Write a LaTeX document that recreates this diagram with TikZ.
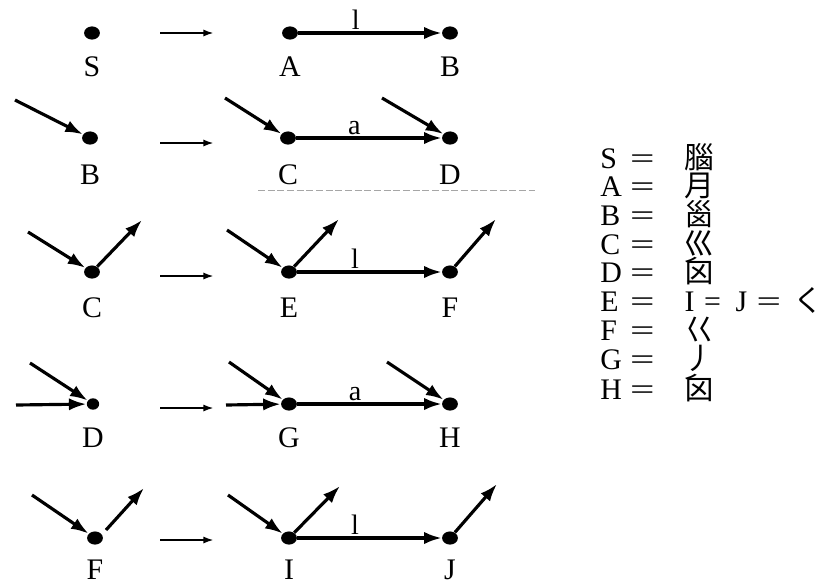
\documentclass[tikz,border=0pt]{standalone}
\usepackage{fontspec}
\setmainfont{Liberation Serif}
\newfontfamily\cjk{Noto Sans CJK TC}
\usepackage{tikz}
\usetikzlibrary{arrows.meta,shapes.geometric}
\tikzset{
  dot/.style={ellipse,fill=black,inner sep=0pt,minimum width=9pt,minimum height=7.5pt},
  stroke/.style={line width=1.8pt,-{Latex[length=10pt,width=7pt]}},
  trans/.style={line width=1.4pt,-{Latex[length=6pt,width=4pt]}},
  lbl/.style={font=\fontsize{17}{20}\selectfont,inner sep=0pt},
  edgelbl/.style={font=\fontsize{16}{18}\selectfont,above,inner sep=1pt,pos=0.4},
  legend/.style={anchor=west,font=\fontsize{17}{20}\selectfont,inner sep=0pt}
}
\newcommand{\keycol}[2]{\makebox[#1][l]{#2}}
\newcommand{\eqsign}{\scalebox{1.45}[1]{=}}
\begin{document}
\begin{tikzpicture}[x=0.02cm,y=-0.02cm]
  \useasboundingbox (0,0) rectangle (837,585);

  % row 1: S -> A --l--> B
  \node[dot] (S1) at (92,33) {};
  \node[dot] (A1) at (290,33) {};
  \node[dot] (B1) at (450,33) {};
  \node[lbl] (S1l) at (92,67) {S};
  \node[lbl] (A1l) at (290,67) {A};
  \node[lbl] (B1l) at (450,67) {B};
  \draw[stroke] (A1) -- node[edgelbl] {l} (B1);

  % row 2: B -> C --a--> D
  \node[dot] (B2) at (90,138) {};
  \node[dot] (C2) at (288,138) {};
  \node[dot] (D2) at (450,138) {};
  \node[lbl] (B2l) at (90,175) {B};
  \node[lbl] (C2l) at (288,175) {C};
  \node[lbl] (D2l) at (450,175) {D};
  \coordinate (b2in) at (15,100);
  \coordinate (c2in) at (225,98);
  \coordinate (d2in) at (382,98);
  \draw[stroke] (b2in) -- (B2);
  \draw[stroke] (c2in) -- (C2);
  \draw[stroke] (d2in) -- (D2);
  \draw[stroke] (C2) -- node[edgelbl] {a} (D2);
  \coordinate (cut1) at (258,190);
  \coordinate (cut2) at (535,190);
  \draw[gray!70,line width=0.5pt,dash pattern=on 4pt off 1.5pt] (cut1) -- (cut2);

  % row 3: C -> E --l--> F
  \node[dot] (C3) at (92,272) {};
  \node[dot] (E3) at (289,272) {};
  \node[dot] (F3) at (450,272) {};
  \node[lbl] (C3l) at (92,308) {C};
  \node[lbl] (E3l) at (289,308) {E};
  \node[lbl] (F3l) at (450,308) {F};
  \coordinate (c3in) at (28,232);
  \coordinate (c3out) at (142,220);
  \coordinate (e3in) at (227,230);
  \coordinate (e3out) at (339,219);
  \coordinate (f3out) at (496,219);
  \draw[stroke] (c3in) -- (C3);
  \draw[stroke] (C3) -- (c3out);
  \draw[stroke] (e3in) -- (E3);
  \draw[stroke] (E3) -- (e3out);
  \draw[stroke] (F3) -- (f3out);
  \draw[stroke] (E3) -- node[edgelbl] {l} (F3);

  % row 4: D -> G --a--> H
  \node[dot,minimum width=7pt,minimum height=6.5pt] (D4) at (93,404) {};
  \node[dot] (G4) at (289,404) {};
  \node[dot] (H4) at (450,404) {};
  \node[lbl] (D4l) at (93,438) {D};
  \node[lbl] (G4l) at (289,438) {G};
  \node[lbl] (H4l) at (450,438) {H};
  \coordinate (d4in) at (30,363);
  \coordinate (d4side) at (16,405);
  \coordinate (g4in) at (229,362);
  \coordinate (g4side) at (226,405);
  \coordinate (h4in) at (387,362);
  \draw[stroke] (d4in) -- (D4);
  \draw[stroke] (d4side) -- (D4);
  \draw[stroke] (g4in) -- (G4);
  \draw[stroke] (g4side) -- (G4);
  \draw[stroke] (h4in) -- (H4);
  \draw[stroke] (G4) -- node[edgelbl] {a} (H4);

  % row 5: F -> I --l--> J
  \node[dot] (F5) at (95,538) {};
  \node[dot] (I5) at (289,538) {};
  \node[dot] (J5) at (450,538) {};
  \node[lbl] (F5l) at (95,570) {F};
  \node[lbl] (I5l) at (289,570) {I};
  \node[lbl] (J5l) at (450,570) {J};
  \coordinate (f5in) at (32,495);
  \coordinate (f5from) at (106,530);
  \coordinate (f5out) at (144,488);
  \coordinate (i5in) at (228,495);
  \coordinate (i5out) at (340,486);
  \coordinate (j5out) at (497,484);
  \draw[stroke] (f5in) -- (F5);
  \draw[stroke] (f5from) -- (f5out);
  \draw[stroke] (i5in) -- (I5);
  \draw[stroke] (I5) -- (i5out);
  \draw[stroke] (J5) -- (j5out);
  \draw[stroke] (I5) -- node[edgelbl] {l} (J5);

  % transitions
  \foreach \y [count=\i] in {33,143,276,408,540} {
    \coordinate (t\i a) at (160,\y);
    \coordinate (t\i b) at (214,\y);
    \draw[trans] (t\i a) -- (t\i b);
  }

  % legend
  \node[legend] (kS) at (600,157) {\keycol{17pt}{S}\keycol{31pt}{\eqsign}{\cjk 腦}};
  \node[legend] (kA) at (600,186) {\keycol{17pt}{A}\keycol{31pt}{\eqsign}{\cjk 月}};
  \node[legend] (kB) at (600,214) {\keycol{17pt}{B}\keycol{31pt}{\eqsign}{\cjk 𡿺}};
  \node[legend] (kC) at (600,243) {\keycol{17pt}{C}\keycol{31pt}{\eqsign}{\cjk 巛}};
  \node[legend] (kD) at (600,271) {\keycol{17pt}{D}\keycol{31pt}{\eqsign}{\cjk 囟}};
  \node[legend] (kE) at (600,300) {\keycol{17pt}{E}\keycol{31pt}{\eqsign}\keycol{11pt}{I}\keycol{18pt}{=}\keycol{12pt}{J}\keycol{21pt}{\eqsign}{\cjk く}};
  \node[legend] (kF) at (600,330) {\keycol{17pt}{F}\keycol{31pt}{\eqsign}{\cjk 巜}};
  \node[legend] (kG) at (600,358) {\keycol{17pt}{G}\keycol{31pt}{\eqsign}{\cjk 丿}};
  \node[legend] (kH) at (600,388) {\keycol{17pt}{H}\keycol{31pt}{\eqsign}{\cjk 囟}};
\end{tikzpicture}
\end{document}
